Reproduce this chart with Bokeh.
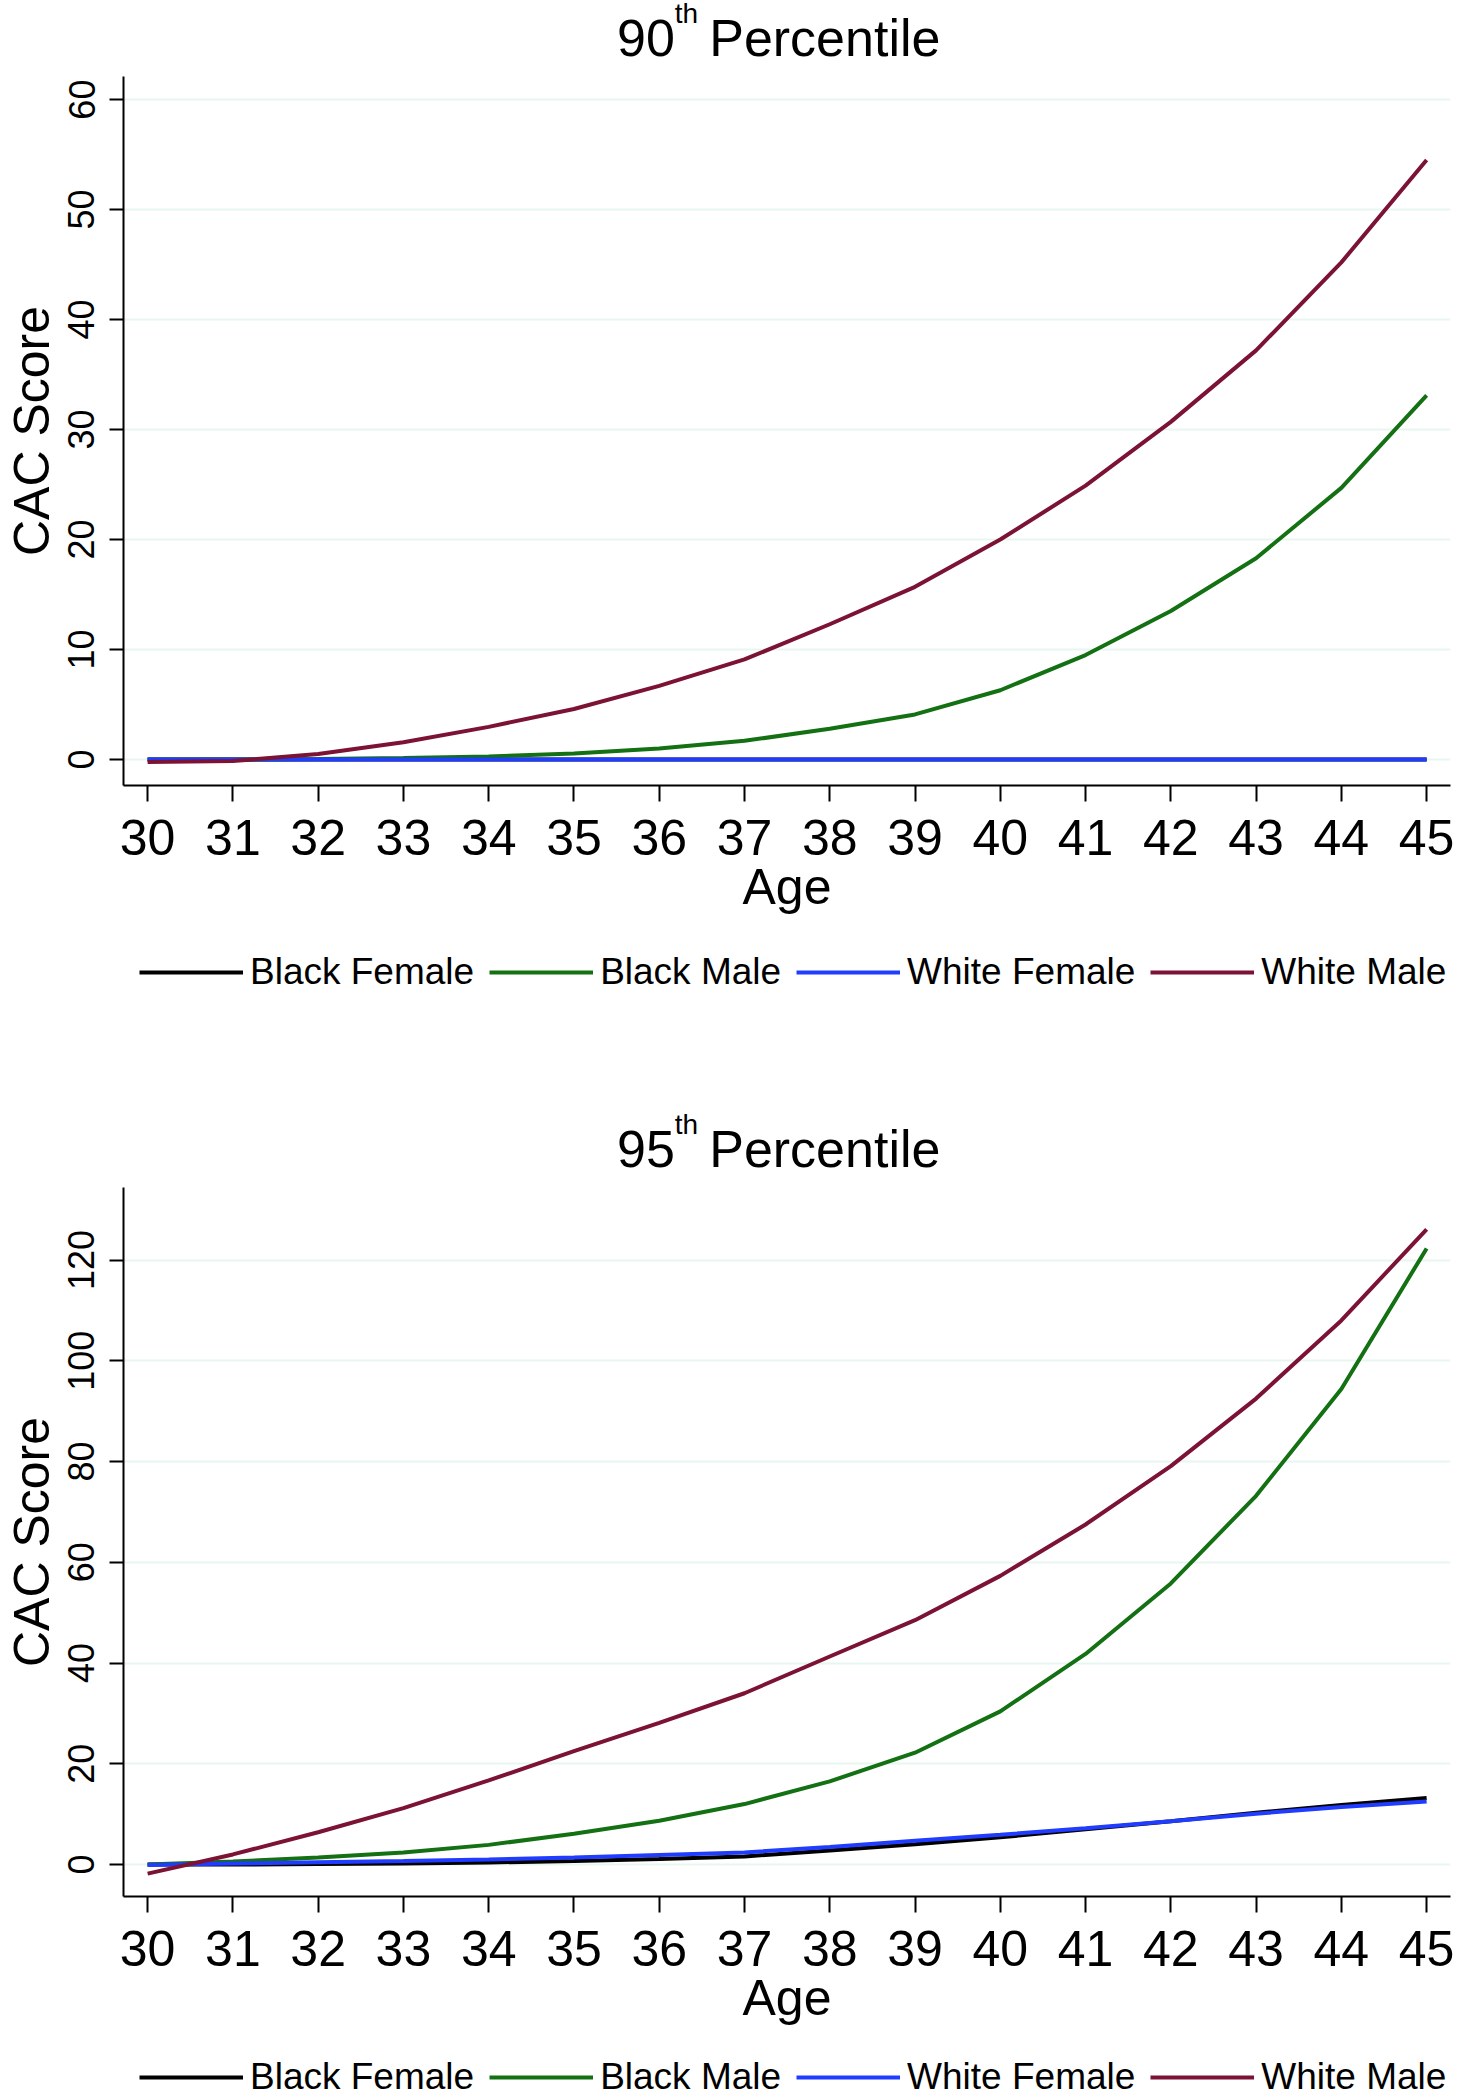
from bokeh.plotting import figure
from bokeh.models import Range1d, FixedTicker, Legend, LegendItem, Div
from bokeh.layouts import column
from bokeh.embed import file_html
from bokeh.resources import INLINE

# ---------------- data ----------------
ages = [30, 31, 32, 33, 34, 35, 36, 37, 38, 39, 40, 41, 42, 43, 44, 45]
series_names = ["Black Female", "Black Male", "White Female", "White Male"]
series_colors = ["#000000", "#137013", "#1f3cff", "#7c1234"]

p90_black_female = [0.0, 0.0, 0.0, 0.0, 0.0, 0.0, 0.0, 0.0, 0.0, 0.0, 0.0, 0.0, 0.0, 0.0, 0.0, 0.0]
p90_black_male = [0.0, 0.0, 0.05, 0.14, 0.28, 0.56, 1.0, 1.7, 2.8, 4.1, 6.3, 9.5, 13.5, 18.3, 24.7, 33.1]
p90_white_female = [0.0, 0.0, 0.0, 0.0, 0.0, 0.0, 0.0, 0.0, 0.0, 0.0, 0.0, 0.0, 0.0, 0.0, 0.0, 0.0]
p90_white_male = [-0.23, -0.14, 0.5, 1.58, 2.97, 4.6, 6.7, 9.1, 12.3, 15.7, 20.0, 24.9, 30.7, 37.2, 45.2, 54.5]

p95_black_female = [0.0, 0.0, 0.1, 0.2, 0.4, 0.7, 1.1, 1.6, 2.8, 4.0, 5.4, 7.0, 8.6, 10.3, 11.8, 13.2]
p95_black_male = [0.0, 0.6, 1.4, 2.4, 3.9, 6.1, 8.7, 12.0, 16.5, 22.2, 30.4, 41.8, 55.8, 73.2, 94.4, 122.3]
p95_white_female = [-0.1, 0.2, 0.45, 0.7, 1.0, 1.4, 1.9, 2.4, 3.5, 4.7, 5.9, 7.2, 8.6, 10.1, 11.4, 12.5]
p95_white_male = [-1.8, 2.0, 6.4, 11.2, 16.7, 22.5, 28.1, 34.0, 41.3, 48.5, 57.3, 67.5, 79.1, 92.5, 108.0, 126.1]

p90_ticks = [0, 10, 20, 30, 40, 50, 60]
p95_ticks = [0, 20, 40, 60, 80, 100, 120]

FONT = "Liberation Sans"
W = 1459
FRAME_H = 709
PANEL_H = 877


def title_div(pct, height, pad_top):
    html = ('<div style="font-family:\'Liberation Sans\',Arial,sans-serif;font-size:52px;line-height:52px;'
            'color:#000;white-space:nowrap;padding-top:%dpx;padding-left:617px">%s'
            '<span style="font-size:28px;position:relative;top:-33px">th</span>'
            '<span style="padding-left:11px">Percentile</span></div>') % (pad_top, pct)
    return Div(text=html, width=W, height=height, margin=0)


def make_panel(series, y_lo, y_hi, yticks):
    p = figure(width=W, height=PANEL_H, title=None,
               x_range=Range1d(29.717, 45.28), y_range=Range1d(y_lo, y_hi),
               output_backend="svg", toolbar_location=None,
               min_border_left=121, min_border_right=9,
               min_border_top=8, min_border_bottom=PANEL_H - 8 - FRAME_H)
    p.outline_line_color = None
    p.xgrid.visible = False
    p.ygrid.grid_line_color = "#e8f6f0"
    p.ygrid.grid_line_width = 2
    p.ygrid.ticker = FixedTicker(ticks=yticks)

    xa = p.xaxis[0]
    xa.ticker = FixedTicker(ticks=ages)
    xa.axis_line_width = 2
    xa.major_tick_line_width = 2
    xa.major_tick_out = 16
    xa.major_tick_in = 0
    xa.minor_tick_line_color = None
    xa.major_label_text_font = FONT
    xa.major_label_text_font_size = "50px"
    xa.major_label_text_color = "black"
    xa.major_label_standoff = 18
    xa.axis_label = "Age"
    xa.axis_label_text_font = FONT
    xa.axis_label_text_font_size = "50px"
    xa.axis_label_text_font_style = "normal"
    xa.axis_label_text_color = "black"
    xa.axis_label_standoff = 1

    ya = p.yaxis[0]
    ya.ticker = FixedTicker(ticks=yticks)
    ya.axis_line_width = 2
    ya.major_tick_line_width = 2
    ya.major_tick_out = 14
    ya.major_tick_in = 0
    ya.minor_tick_line_color = None
    ya.major_label_orientation = "vertical"
    ya.major_label_text_font = FONT
    ya.major_label_text_font_size = "36px"
    ya.major_label_text_color = "black"
    ya.major_label_standoff = 15
    ya.axis_label = "CAC Score"
    ya.axis_label_text_font = FONT
    ya.axis_label_text_font_size = "50px"
    ya.axis_label_text_font_style = "normal"
    ya.axis_label_text_color = "black"
    ya.axis_label_standoff = 6

    for color, vals in zip(series_colors, series):
        p.line(ages, vals, line_color=color, line_width=4)
    return p


def legend_panel(series, height, y_pos):
    # legend-only strip; the series are drawn off-range so only the key shows
    lp = figure(width=W, height=height, title=None,
                x_range=Range1d(0, 1), y_range=Range1d(0, 1),
                x_axis_location=None, y_axis_location=None,
                output_backend="svg", toolbar_location=None,
                min_border_left=121, min_border_right=9, min_border_top=0, min_border_bottom=0)
    lp.outline_line_color = None
    lp.grid.visible = False
    items = []
    for name, color, vals in zip(series_names, series_colors, series):
        r = lp.line(ages, vals, line_color=color, line_width=4)
        items.append(LegendItem(label=name, renderers=[r]))
    legend = Legend(items=items, orientation="horizontal", location=(16, y_pos),
                    glyph_width=104, glyph_height=44, label_height=44, label_standoff=7, spacing=15,
                    padding=0, margin=0, border_line_color=None, background_fill_alpha=0,
                    label_text_font=FONT, label_text_font_size="37px", label_text_color="black")
    lp.add_layout(legend)
    return lp


s90 = [p90_black_female, p90_black_male, p90_white_female, p90_white_male]
s95 = [p95_black_female, p95_black_male, p95_white_female, p95_white_male]

t1 = title_div("90", 68, 12)
p1 = make_panel(s90, -2.36, 62.1, p90_ticks)
l1 = legend_panel(s90, 106, 57)

sep = Div(text='<div style="padding-top:6px">'
               '<div style="height:3px;background:#edf8f4"></div>'
               '<div style="height:3px;background:#edf8f4;margin-top:21px"></div></div>',
          width=W, height=40, margin=0)

t2 = title_div("95", 88, 32)
p2 = make_panel(s95, -6.35, 134.4, p95_ticks)
l2 = legend_panel(s95, 43, 0)

layout = column(t1, p1, l1, sep, t2, p2, l2, spacing=0)

open("out.html", "w").write(file_html(layout, INLINE))
